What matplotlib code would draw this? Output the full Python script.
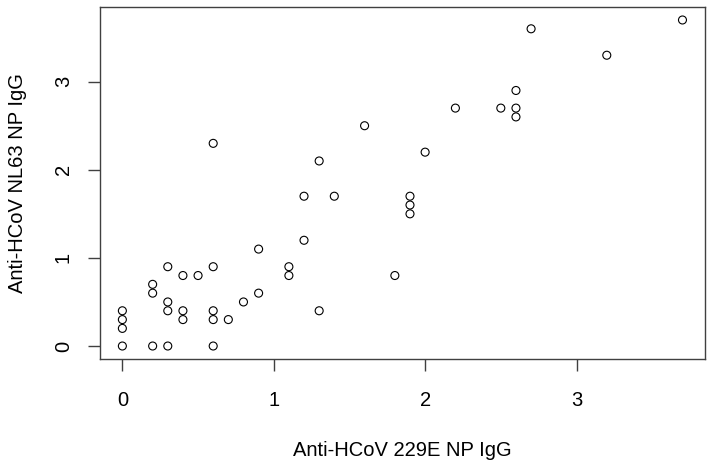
import matplotlib
matplotlib.use("Agg")
import matplotlib.pyplot as plt

plt.rcParams['font.family'] = ['Liberation Sans', 'DejaVu Sans']

# antibody levels
igg_229e = [0, 0, 0, 0,
            0.2, 0.2, 0.2,
            0.3, 0.3, 0.3, 0.3,
            0.4, 0.4, 0.4,
            0.5,
            0.6, 0.6, 0.6, 0.6, 0.6,
            0.7, 0.8, 0.9, 0.9,
            1.1, 1.1, 1.2, 1.2, 1.3, 1.3, 1.4, 1.6, 1.8,
            1.9, 1.9, 1.9, 2.0, 2.2, 2.5,
            2.6, 2.6, 2.6, 2.7, 3.2, 3.7]
igg_nl63 = [0, 0.2, 0.3, 0.4,
            0, 0.6, 0.7,
            0, 0.4, 0.5, 0.9,
            0.3, 0.4, 0.8,
            0.8,
            0, 0.3, 0.4, 0.9, 2.3,
            0.3, 0.5, 0.6, 1.1,
            0.8, 0.9, 1.2, 1.7, 0.4, 2.1, 1.7, 2.5, 0.8,
            1.5, 1.6, 1.7, 2.2, 2.7, 2.7,
            2.6, 2.7, 2.9, 3.6, 3.3, 3.7]
ticks = [0, 1, 2, 3]

fig = plt.figure(figsize=(7.12, 4.63), dpi=100)
ax = fig.add_axes([0.1404, 0.2245, 0.8496, 0.7605])

ax.scatter(igg_229e, igg_nl63, s=33, facecolors='none', edgecolors='black', linewidths=0.8)

ax.set_xlim(-0.148, 3.848)
ax.set_ylim(-0.148, 3.848)
ax.set_xticks(ticks)
ax.set_yticks(ticks)
ax.tick_params(axis='both', direction='out', length=8.5, width=1, color='#404040',
               labelsize=14.5)
ax.tick_params(axis='x', pad=14.5)
ax.tick_params(axis='y', pad=11)
for lab in ax.get_yticklabels():
    lab.set_rotation(90)
    lab.set_va('center')

for sp in ax.spines.values():
    sp.set_color('#404040')
    sp.set_linewidth(1)

ax.set_xlabel('Anti-HCoV 229E NP IgG', fontsize=14.5, labelpad=22)
ax.set_ylabel('Anti-HCoV NL63 NP IgG', fontsize=14.5, labelpad=19)

fig.savefig('out.png', dpi=100)
